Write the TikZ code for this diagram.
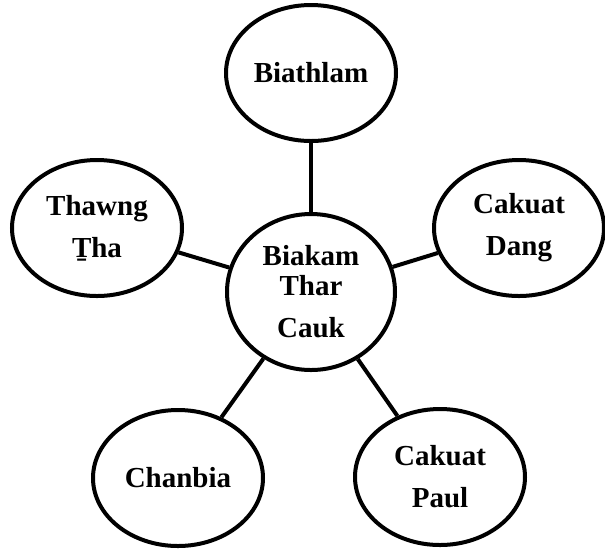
\documentclass[tikz,border=0pt]{standalone}
\usepackage{fontspec}
\setmainfont{Liberation Serif}
\usepackage{tikz}
\usetikzlibrary{shapes.geometric}

\begin{document}
\begin{tikzpicture}[x=0.5pt, y=-0.5pt, inner sep=0pt,
		bubble/.style={ellipse, draw=black, line width=2pt, minimum width=85pt, minimum height=68pt, align=center, font=\bfseries\fontsize{14.5}{21}\selectfont},
		spoke/.style={-, line width=2pt}]
		\useasboundingbox (0,0) rectangle (605,548);

		\node[bubble, minimum width=84pt, minimum height=78pt](C) at (311,292) {Biakam\\[-6pt]Thar\\Cauk};

		\node[bubble](B) at (311,73) {Biathlam};
		\node[bubble](T) at (97,228) {Thawng\\Ṯha};
		\node[bubble](D) at (519,228) {Cakuat\\Dang};

		\node[bubble](H) at (178,478) {Chanbia};
		\node[bubble](P) at (440,477) {Cakuat\\Paul};

		\draw[spoke](C) edge (B);
		\draw[spoke](C) edge (T);
		\draw[spoke](C) edge (D);
		\draw[spoke](C) edge (H);
		\draw[spoke](C) edge (P);
	\end{tikzpicture}
\end{document}
